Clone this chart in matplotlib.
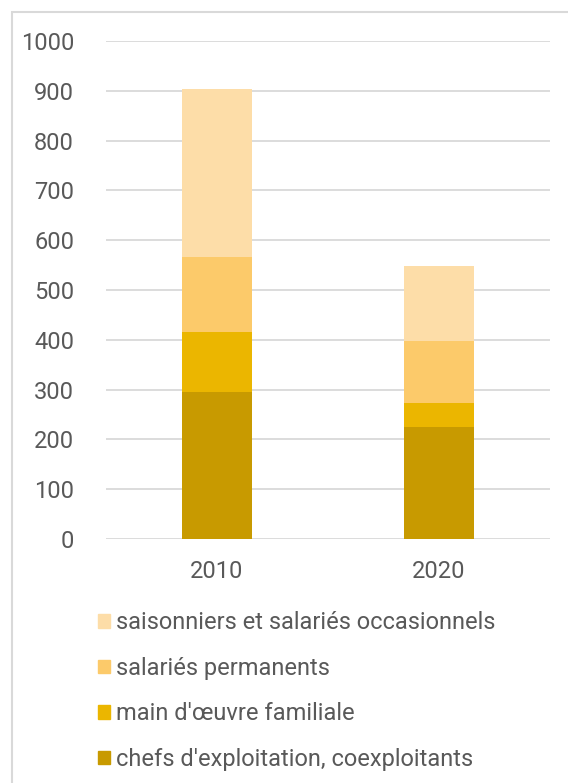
import matplotlib.pyplot as plt
from matplotlib.patches import Rectangle, Patch
import numpy as np

plt.rcParams['font.family'] = ['Roboto', 'DejaVu Sans']

# data
years = ['2010', '2020']
chefs = [296, 224]
main_oeuvre = [120, 50]
permanents = [151, 124]
saisonniers = [337, 150]

labels = ["chefs d'exploitation, coexploitants", "main d'œuvre familiale",
          "salariés permanents", "saisonniers et salariés occasionnels"]
colors = ['#C89A00', '#EBB600', '#FCCA6A', '#FDDDA8']
txt = '#595959'

fig = plt.figure(figsize=(5.68, 7.83), dpi=100)
ax = fig.add_axes([106/568, 1-539/783, 444/568, 498/783])

x = np.arange(len(years))
series = [chefs, main_oeuvre, permanents, saisonniers]
bottom = np.zeros(len(years))
for vals, c, lab in zip(series, colors, labels):
    ax.bar(x, vals, bottom=bottom, width=0.315, color=c, label=lab, zorder=3)
    bottom += np.array(vals)

ax.set_xlim(-0.5, 1.5)
ax.set_ylim(0, 1000)
ax.set_yticks(range(0, 1001, 100))
ax.set_xticks(x)
ax.set_xticklabels(years)
ax.yaxis.grid(True, color='#d9d9d9', linewidth=1.3, zorder=0)
for s in ax.spines.values():
    s.set_visible(False)
ax.tick_params(length=0, labelsize=17, colors=txt)
ax.tick_params(axis='x', pad=15)
ax.tick_params(axis='y', pad=23)

# legend (reversed order like the original)
handles = [Patch(color=c) for c in colors][::-1]
leg = fig.legend(handles, labels[::-1], loc='upper left',
                 bbox_to_anchor=(89/568, 1-602/783), frameon=False,
                 fontsize=17, handlelength=0.5, handleheight=0.5,
                 handletextpad=0.25, labelspacing=0.95, borderaxespad=0)
for t in leg.get_texts():
    t.set_color(txt)

# outer frame
fig.patches.append(Rectangle((12/568, -0.01), 1.0, 1-12/783 + 0.01,
                             transform=fig.transFigure, fill=False,
                             edgecolor='#d9d9d9', linewidth=1.5))

fig.savefig('out.png', dpi=100)
